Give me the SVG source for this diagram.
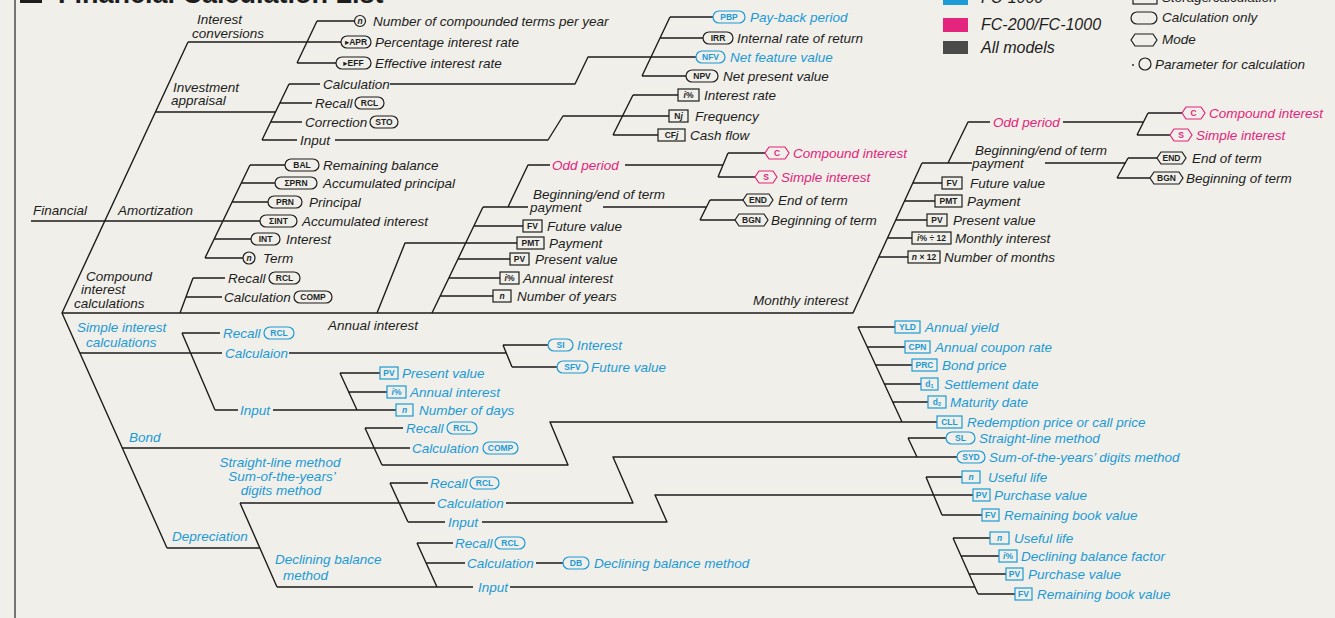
<svg xmlns="http://www.w3.org/2000/svg" width="1335" height="618" viewBox="0 0 1335 618">
<defs>
<style>
.t{font-family:"Liberation Sans",Arial,sans-serif;font-style:italic;font-size:13.5px;fill:#1d1d1d}
.bl{fill:#1c9ad6}
.pk{fill:#e3257d}
.k{font-family:"Liberation Sans","DejaVu Sans",sans-serif;font-weight:bold;font-size:8.5px;text-anchor:middle;fill:#1d1d1d}
.kb{fill:#1c9ad6}
.kp{fill:#e3257d}
.s{fill:none;stroke:#1d1d1d;stroke-width:1.2}
.sb{stroke:#1c9ad6}
.sp{stroke:#e3257d}
.lg{font-family:"Liberation Sans",Arial,sans-serif;font-style:italic;font-size:16px;fill:#1d1d1d}
#connectors path{fill:none;stroke:#1d1d1d;stroke-width:1.4;stroke-linejoin:round}
</style>
</defs>
<rect x="0" y="0" width="1335" height="618" fill="#f0efe9"/>
<line x1="15" y1="0" x2="15" y2="618" stroke="#555" stroke-width="1.6"/>
<g id="title"><rect x="20" y="-20" width="22" height="23" fill="#1d1d1d"/><text x="58" y="3" font-family="Liberation Sans,Arial,sans-serif" font-weight="bold" font-size="27" fill="#1d1d1d">Financial Calculation List</text></g>

<g id="legend-fc1000"><rect x="943" y="-12" width="25" height="17" fill="#1d9bd7"/><text class="lg" x="981" y="3">FC-1000</text></g>
<g id="legend-fc200"><rect x="943" y="18" width="25" height="14" fill="#e3257d"/><text class="lg" x="981" y="30">FC-200/FC-1000</text></g>
<g id="legend-all"><rect x="943" y="41" width="25" height="13" fill="#4a4a4a"/><text class="lg" x="981" y="53">All models</text></g>
<g id="legend-storage"><rect class="s" x="1133" y="-8" width="24" height="12"/><text class="t" x="1162" y="2">Storage/calculation</text></g>
<g id="legend-calc"><rect class="s" x="1131" y="12" width="26" height="12" rx="6"/><text class="t" x="1162" y="22">Calculation only</text></g>
<g id="legend-mode"><path class="s" d="M1135,34 H1153 L1157,40 L1153,46 H1135 L1131,40 Z"/><text class="t" x="1162" y="44">Mode</text></g>
<g id="legend-param"><circle cx="1133" cy="65" r="0.9" fill="#1d1d1d"/><circle class="s" cx="1145" cy="64" r="6"/><text class="t" x="1155" y="69">Parameter for calculation</text></g>

<g id="connectors">
<path d="M188,42 L62,313 L167,548"/>
<path d="M188,42 H341 M317,21 L297,63 M317,21 H354.5 M297,63 H336"/>
<path d="M156,112 H275.5 M289,84 L262,140 M289,84 H320 M390,84 H575 L588,57 H696 M280,103 H312 M271,122 H302 M262,140 H297 M335,140 H548 L563,116 H669"/>
<path d="M670,17 L642,76 M670,17 H713 M660,38 H703 M642,76 H686"/>
<path d="M633,95 L613,135 M633,95 H678 M613,135 H658"/>
<path d="M31,221 H260 M250,165 L205,258 M250,165 H285 M241,183 H275 M232,202 H268 M214,239 H251 M205,258 H243"/>
<path d="M62,313 H853 L922,163 M193,278 L180,313 M193,278 H225 M186,297 H222"/>
<path d="M377,313 L405,243 H517 M483,207 L432,313 M483,207 H528 M508,207 L528,165 H550 M625,165 H723 M728,153 L718,177 M728,153 H765 M718,177 H755 M603,207 H706 M710,200 L700,220 M710,200 H743 M700,220 H735 M474,226 H523 M458,259 H510 M449,278 H500 M440,296 H493"/>
<path d="M922,163 H972 M948,163 L968,122 H990 M1063,122 H1143 M1148,113 L1137,135 M1148,113 H1182 M1137,135 H1170 M1045,163 H1126 M1128,158 L1117,178 M1128,158 H1157 M1117,178 H1150 M913,183 H942 M904.5,201 H935 M896,220 H927 M887.5,238 H912 M879,257 H908"/>
<path d="M80,353 H222 M182,333 L215,410 M182,333 H220 M215,410 H238 M289,353 H506 M503,345 L512,367 M503,345 H548 M512,367 H557 M273,410 H396 M340,373 L357,410 M340,373 H380 M348,392 H387"/>
<path d="M122,448 H410 M365,428 L382,465 M365,428 H403 M382,465 H568 L550,422 H937 M858,327 L902,422 M858,327 H895 M867,347 H905 M875,365 H912 M884,384 H921 M892,402 H928"/>
<path d="M167,548 H260 M240,503 L277,587 M240,503 H435 M506,503 H633 L613,457 H957 M390,483 L408,522 M390,483 H428 M408,522 H445 M482,522 H667 L655,495 H973 M908,438 L917,457 M908,438 H946 M926,477 L942,515 M926,477 H962 M942,515 H982"/>
<path d="M277,587 H473 M417,543 L437,587 M417,543 H453 M426,563 H465 M536,563 H563 M510,587 H975 M953,538 L978,594 M953,538 H990 M961,556 H999 M969,574 H1006 M978,594 H1015"/>
</g>

<g id="lbl-financial"><text class="t" x="33" y="215">Financial</text></g>
<g id="lbl-interest-conv"><text class="t" x="197" y="24">Interest</text><text class="t" x="192" y="37.5">conversions</text></g>
<g id="lbl-investment"><text class="t" x="173" y="92">Investment</text><text class="t" x="171" y="105">appraisal</text></g>
<g id="lbl-amortization"><text class="t" x="118" y="215">Amortization</text></g>
<g id="lbl-compound"><text class="t" x="86" y="281">Compound</text><text class="t" x="81" y="294">interest</text><text class="t" x="74" y="308">calculations</text></g>
<g id="lbl-annual"><text class="t" x="328" y="330">Annual interest</text></g>
<g id="lbl-monthly"><text class="t" x="753" y="305">Monthly interest</text></g>
<g id="lbl-simple"><text class="t bl" x="77" y="332">Simple interest</text><text class="t bl" x="86" y="347">calculations</text></g>
<g id="lbl-bond"><text class="t bl" x="129" y="442">Bond</text></g>
<g id="lbl-depreciation"><text class="t bl" x="172" y="541">Depreciation</text></g>
<g id="lbl-straight"><text class="t bl" x="280" y="467" text-anchor="middle">Straight-line method</text><text class="t bl" x="282" y="481" text-anchor="middle">Sum-of-the-years’</text><text class="t bl" x="281" y="495" text-anchor="middle">digits method</text></g>
<g id="lbl-declining"><text class="t bl" x="275" y="564">Declining balance</text><text class="t bl" x="283" y="580">method</text></g>

<g id="n-terms"><circle class="s" cx="360" cy="21" r="5.5"/><text class="k" x="360" y="24" font-style="italic">n</text><text class="t" x="373" y="26">Number of compounded terms per year</text></g>
<g id="n-apr"><rect class="s" x="341" y="36" width="30" height="12" rx="6"/><text class="k" x="356" y="45">▸APR</text><text class="t" x="375" y="47">Percentage interest rate</text></g>
<g id="n-eff"><rect class="s" x="336" y="57" width="35" height="12" rx="6"/><text class="k" x="353.5" y="66">▸EFF</text><text class="t" x="375" y="68">Effective interest rate</text></g>

<g id="n-inv-calc"><text class="t" x="323" y="89">Calculation</text></g>
<g id="n-inv-rcl"><text class="t" x="315" y="108">Recall</text><rect class="s" x="355" y="97" width="29" height="12" rx="6"/><text class="k" x="369.5" y="106">RCL</text></g>
<g id="n-inv-sto"><text class="t" x="305" y="127">Correction</text><rect class="s" x="370" y="116" width="28" height="12" rx="6"/><text class="k" x="384" y="125">STO</text></g>
<g id="n-inv-input"><text class="t" x="300" y="145">Input</text></g>
<g id="n-pbp"><rect class="s sb" x="713" y="11" width="32" height="12" rx="6"/><text class="k kb" x="729" y="20">PBP</text><text class="t bl" x="750" y="22">Pay-back period</text></g>
<g id="n-irr"><rect class="s" x="703" y="32" width="30" height="12" rx="6"/><text class="k" x="718" y="41">IRR</text><text class="t" x="737" y="43">Internal rate of return</text></g>
<g id="n-nfv"><rect class="s sb" x="696" y="51" width="29" height="12" rx="6"/><text class="k kb" x="710.5" y="60">NFV</text><text class="t bl" x="730" y="62">Net feature value</text></g>
<g id="n-npv"><rect class="s" x="686" y="70" width="32" height="12" rx="6"/><text class="k" x="702" y="79">NPV</text><text class="t" x="723" y="81">Net present value</text></g>
<g id="n-inv-i"><rect class="s" x="678" y="89" width="21" height="12"/><text class="k" x="688.5" y="98"><tspan font-style="italic">i</tspan>%</text><text class="t" x="704" y="100">Interest rate</text></g>
<g id="n-inv-nj"><rect class="s" x="669" y="110" width="19" height="12"/><text class="k" x="678.5" y="119">N<tspan font-style="italic">j</tspan></text><text class="t" x="695" y="121">Frequency</text></g>
<g id="n-inv-cfj"><rect class="s" x="658" y="129" width="27" height="12"/><text class="k" x="671.5" y="138">CF<tspan font-style="italic">j</tspan></text><text class="t" x="690" y="140">Cash flow</text></g>

<g id="n-bal"><rect class="s" x="285" y="159" width="34" height="12" rx="6"/><text class="k" x="302" y="168">BAL</text><text class="t" x="323" y="170">Remaining balance</text></g>
<g id="n-sprn"><rect class="s" x="275" y="177" width="42" height="12" rx="6"/><text class="k" x="296" y="186">ΣPRN</text><text class="t" x="323" y="188">Accumulated principal</text></g>
<g id="n-prn"><rect class="s" x="268" y="196" width="34" height="12" rx="6"/><text class="k" x="285" y="205">PRN</text><text class="t" x="309" y="207">Principal</text></g>
<g id="n-sint"><rect class="s" x="260" y="215" width="37" height="12" rx="6"/><text class="k" x="278.5" y="224">ΣINT</text><text class="t" x="302" y="226">Accumulated interest</text></g>
<g id="n-int"><rect class="s" x="251" y="233" width="29" height="12" rx="6"/><text class="k" x="265.5" y="242">INT</text><text class="t" x="286" y="244">Interest</text></g>
<g id="n-term"><circle class="s" cx="249" cy="258" r="6"/><text class="k" x="249" y="261" font-style="italic">n</text><text class="t" x="263" y="263">Term</text></g>

<g id="n-comp-rcl"><text class="t" x="228" y="283">Recall</text><rect class="s" x="269" y="272" width="31" height="12" rx="6"/><text class="k" x="284.5" y="281">RCL</text></g>
<g id="n-comp-calc"><text class="t" x="224" y="302">Calculation</text><rect class="s" x="294" y="291" width="38" height="12" rx="6"/><text class="k" x="313" y="300">COMP</text></g>

<g id="n-a-beg"><text class="t" x="533" y="199">Beginning/end of term</text><text class="t" x="530" y="212">payment</text></g>
<g id="n-a-odd"><text class="t pk" x="552" y="170">Odd period</text></g>
<g id="n-a-c"><path class="s sp" d="M769,147 H785 L789,153 L785,159 H769 L765,153 Z"/><text class="k kp" x="777" y="156">C</text><text class="t pk" x="793" y="158">Compound interest</text></g>
<g id="n-a-s"><path class="s sp" d="M759,171 H773 L777,177 L773,183 H759 L755,177 Z"/><text class="k kp" x="766" y="180">S</text><text class="t pk" x="781" y="182">Simple interest</text></g>
<g id="n-a-end"><path class="s" d="M747,194 H769 L773,200 L769,206 H747 L743,200 Z"/><text class="k" x="758" y="203">END</text><text class="t" x="778" y="205">End of term</text></g>
<g id="n-a-bgn"><path class="s" d="M739,214 H764 L768,220 L764,226 H739 L735,220 Z"/><text class="k" x="751.5" y="223">BGN</text><text class="t" x="771" y="225">Beginning of term</text></g>
<g id="n-a-fv"><rect class="s" x="523" y="220" width="19" height="12"/><text class="k" x="532.5" y="229">FV</text><text class="t" x="547" y="231">Future value</text></g>
<g id="n-a-pmt"><rect class="s" x="517" y="237" width="27" height="12"/><text class="k" x="530.5" y="246">PMT</text><text class="t" x="549" y="248">Payment</text></g>
<g id="n-a-pv"><rect class="s" x="510" y="253" width="19" height="12"/><text class="k" x="519.5" y="262">PV</text><text class="t" x="535" y="264">Present value</text></g>
<g id="n-a-i"><rect class="s" x="500" y="272" width="19" height="12"/><text class="k" x="509.5" y="281"><tspan font-style="italic">i</tspan>%</text><text class="t" x="523" y="283">Annual interest</text></g>
<g id="n-a-n"><rect class="s" x="493" y="290" width="18" height="12"/><text class="k" x="502" y="299" font-style="italic">n</text><text class="t" x="517" y="301">Number of years</text></g>

<g id="n-m-beg"><text class="t" x="975" y="155">Beginning/end of term</text><text class="t" x="972" y="168">payment</text></g>
<g id="n-m-odd"><text class="t pk" x="993" y="127">Odd period</text></g>
<g id="n-m-c"><path class="s sp" d="M1186,107 H1201 L1205,113 L1201,119 H1186 L1182,113 Z"/><text class="k kp" x="1193.5" y="116">C</text><text class="t pk" x="1209" y="118">Compound interest</text></g>
<g id="n-m-s"><path class="s sp" d="M1174,129 H1188 L1192,135 L1188,141 H1174 L1170,135 Z"/><text class="k kp" x="1181" y="138">S</text><text class="t pk" x="1196" y="140">Simple interest</text></g>
<g id="n-m-end"><path class="s" d="M1161,152 H1182 L1186,158 L1182,164 H1161 L1157,158 Z"/><text class="k" x="1171.5" y="161">END</text><text class="t" x="1192" y="163">End of term</text></g>
<g id="n-m-bgn"><path class="s" d="M1154,172 H1179 L1183,178 L1179,184 H1154 L1150,178 Z"/><text class="k" x="1166.5" y="181">BGN</text><text class="t" x="1186" y="183">Beginning of term</text></g>
<g id="n-m-fv"><rect class="s" x="942" y="177" width="20" height="12"/><text class="k" x="952" y="186">FV</text><text class="t" x="970" y="188">Future value</text></g>
<g id="n-m-pmt"><rect class="s" x="935" y="195" width="27" height="12"/><text class="k" x="948.5" y="204">PMT</text><text class="t" x="967" y="206">Payment</text></g>
<g id="n-m-pv"><rect class="s" x="927" y="214" width="20" height="12"/><text class="k" x="937" y="223">PV</text><text class="t" x="953" y="225">Present value</text></g>
<g id="n-m-i"><rect class="s" x="912" y="232" width="39" height="12"/><text class="k" x="931.5" y="241"><tspan font-style="italic">i</tspan>% ÷ 12</text><text class="t" x="955" y="243">Monthly interest</text></g>
<g id="n-m-n"><rect class="s" x="908" y="251" width="32" height="12"/><text class="k" x="924" y="260"><tspan font-style="italic">n</tspan> × 12</text><text class="t" x="944" y="262">Number of months</text></g>

<g id="n-si-rcl"><text class="t bl" x="223" y="338">Recall</text><rect class="s sb" x="264" y="327" width="30" height="12" rx="6"/><text class="k kb" x="279" y="336">RCL</text></g>
<g id="n-si-calc"><text class="t bl" x="225" y="358">Calculaion</text></g>
<g id="n-si-input"><text class="t bl" x="240" y="415">Input</text></g>
<g id="n-si-si"><rect class="s sb" x="548" y="339" width="25" height="12" rx="6"/><text class="k kb" x="560.5" y="348">SI</text><text class="t bl" x="577" y="350">Interest</text></g>
<g id="n-si-sfv"><rect class="s sb" x="557" y="361" width="31" height="12" rx="6"/><text class="k kb" x="572.5" y="370">SFV</text><text class="t bl" x="591" y="372">Future value</text></g>
<g id="n-si-pv"><rect class="s sb" x="380" y="367" width="18" height="12"/><text class="k kb" x="389" y="376">PV</text><text class="t bl" x="402" y="378">Present value</text></g>
<g id="n-si-i"><rect class="s sb" x="387" y="386" width="19" height="12"/><text class="k kb" x="396.5" y="395"><tspan font-style="italic">i</tspan>%</text><text class="t bl" x="410" y="397">Annual interest</text></g>
<g id="n-si-n"><rect class="s sb" x="396" y="404" width="17" height="12"/><text class="k kb" x="404.5" y="413" font-style="italic">n</text><text class="t bl" x="419" y="415">Number of days</text></g>

<g id="n-bond-rcl"><text class="t bl" x="406" y="433">Recall</text><rect class="s sb" x="447" y="422" width="30" height="12" rx="6"/><text class="k kb" x="462" y="431">RCL</text></g>
<g id="n-bond-calc"><text class="t bl" x="412" y="453">Calculation</text><rect class="s sb" x="483" y="442" width="35" height="12" rx="6"/><text class="k kb" x="500.5" y="451">COMP</text></g>
<g id="n-yld"><rect class="s sb" x="895" y="321" width="25" height="12"/><text class="k kb" x="907.5" y="330">YLD</text><text class="t bl" x="925" y="332">Annual yield</text></g>
<g id="n-cpn"><rect class="s sb" x="905" y="341" width="25" height="12"/><text class="k kb" x="917.5" y="350">CPN</text><text class="t bl" x="935" y="352">Annual coupon rate</text></g>
<g id="n-prc"><rect class="s sb" x="912" y="359" width="25" height="12"/><text class="k kb" x="924.5" y="368">PRC</text><text class="t bl" x="942" y="370">Bond price</text></g>
<g id="n-d1"><rect class="s sb" x="921" y="378" width="17" height="12"/><text class="k kb" x="929.5" y="387">d<tspan font-size="5.5" dy="1">1</tspan></text><text class="t bl" x="944" y="389">Settlement date</text></g>
<g id="n-d2"><rect class="s sb" x="928" y="396" width="18" height="12"/><text class="k kb" x="937" y="405">d<tspan font-size="5.5" dy="1">2</tspan></text><text class="t bl" x="950" y="407">Maturity date</text></g>
<g id="n-cll"><rect class="s sb" x="937" y="416" width="25" height="12"/><text class="k kb" x="949.5" y="425">CLL</text><text class="t bl" x="967" y="427">Redemption price or call price</text></g>

<g id="n-dep-rcl"><text class="t bl" x="430" y="488">Recall</text><rect class="s sb" x="470" y="477" width="29" height="12" rx="6"/><text class="k kb" x="484.5" y="486">RCL</text></g>
<g id="n-dep-calc"><text class="t bl" x="437" y="508">Calculation</text></g>
<g id="n-dep-input"><text class="t bl" x="448" y="527">Input</text></g>
<g id="n-sl"><rect class="s sb" x="946" y="432" width="29" height="12" rx="6"/><text class="k kb" x="960.5" y="441">SL</text><text class="t bl" x="979" y="443">Straight-line method</text></g>
<g id="n-syd"><rect class="s sb" x="957" y="451" width="28" height="12" rx="6"/><text class="k kb" x="971" y="460">SYD</text><text class="t bl" x="989" y="462">Sum-of-the-years’ digits method</text></g>
<g id="n-sl-n"><rect class="s sb" x="962" y="471" width="18" height="12"/><text class="k kb" x="971" y="480" font-style="italic">n</text><text class="t bl" x="988" y="482">Useful life</text></g>
<g id="n-sl-pv"><rect class="s sb" x="973" y="489" width="17" height="12"/><text class="k kb" x="981.5" y="498">PV</text><text class="t bl" x="994" y="500">Purchase value</text></g>
<g id="n-sl-fv"><rect class="s sb" x="982" y="509" width="17" height="12"/><text class="k kb" x="990.5" y="518">FV</text><text class="t bl" x="1004" y="520">Remaining book value</text></g>

<g id="n-db-rcl"><text class="t bl" x="455" y="548">Recall</text><rect class="s sb" x="495" y="537" width="30" height="12" rx="6"/><text class="k kb" x="510" y="546">RCL</text></g>
<g id="n-db-calc"><text class="t bl" x="467" y="568">Calculation</text><rect class="s sb" x="563" y="557" width="26" height="12" rx="6"/><text class="k kb" x="576" y="566">DB</text><text class="t bl" x="594" y="568">Declining balance method</text></g>
<g id="n-db-input"><text class="t bl" x="478" y="592">Input</text></g>
<g id="n-db-n"><rect class="s sb" x="990" y="532" width="19" height="12"/><text class="k kb" x="999.5" y="541" font-style="italic">n</text><text class="t bl" x="1014" y="543">Useful life</text></g>
<g id="n-db-i"><rect class="s sb" x="999" y="550" width="18" height="12"/><text class="k kb" x="1008" y="559"><tspan font-style="italic">i</tspan>%</text><text class="t bl" x="1021" y="561">Declining balance factor</text></g>
<g id="n-db-pv"><rect class="s sb" x="1006" y="568" width="17" height="12"/><text class="k kb" x="1014.5" y="577">PV</text><text class="t bl" x="1028" y="579">Purchase value</text></g>
<g id="n-db-fv"><rect class="s sb" x="1015" y="588" width="17" height="12"/><text class="k kb" x="1023.5" y="597">FV</text><text class="t bl" x="1037" y="599">Remaining book value</text></g>
</svg>
